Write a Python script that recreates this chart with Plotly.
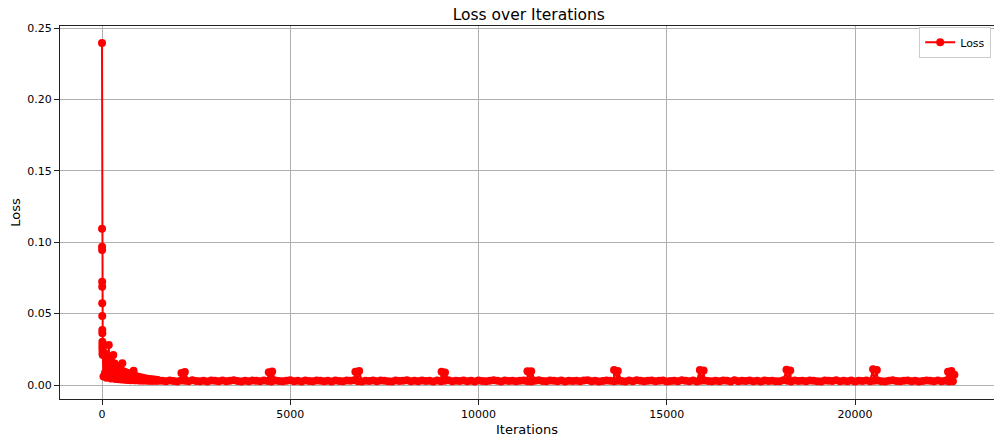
import plotly.graph_objects as go

# ---- data ----
# very first iterations (all drawn on the same pixel column at x = 0)
first_iters = [0, 1, 2, 3, 4, 5, 6, 7, 8, 9, 10, 11, 12, 14, 16, 18]
first_loss = [0.2395, 0.1095, 0.0969, 0.0945, 0.0723, 0.0688, 0.0572, 0.0483,
              0.0385, 0.0362, 0.0303, 0.0280, 0.0262, 0.0245, 0.0230, 0.0215]

# noisy decay, iterations 20 .. 1500 every 20
decay_start, decay_step = 20, 20
decay_loss = [
    0.0210, 0.0060, 0.0225, 0.0085, 0.0200, 0.0050, 0.0180, 0.0070, 0.0280, 0.0060,
    0.0175, 0.0045, 0.0160, 0.0055, 0.0210, 0.0048, 0.0150, 0.0042, 0.0135, 0.0050,
    0.0125, 0.0040, 0.0120, 0.0046, 0.0110, 0.0038, 0.0152, 0.0042, 0.0095, 0.0036,
    0.0090, 0.0040, 0.0085, 0.0035, 0.0082, 0.0038, 0.0078, 0.0034, 0.0072, 0.0036,
    0.0068, 0.0100, 0.0034, 0.0065, 0.0033, 0.0060, 0.0035, 0.0057, 0.0032, 0.0055,
    0.0034, 0.0052, 0.0032, 0.0050, 0.0031, 0.0046, 0.0033, 0.0045, 0.0031, 0.0043,
    0.0032, 0.0042, 0.0030, 0.0040, 0.0031, 0.0039, 0.0030, 0.0038, 0.0031, 0.0037,
    0.0030, 0.0036, 0.0031, 0.0035, 0.0030]

# flat plateau, iterations 1600 .. 22600 every 100
plateau_start, plateau_step = 1600, 100
plateau_loss = [
    0.0030, 0.0027, 0.0032, 0.0028, 0.0025, 0.0031, 0.0029, 0.0026, 0.0033, 0.0028,
    0.0027, 0.0030, 0.0025, 0.0032, 0.0029, 0.0027, 0.0031, 0.0026, 0.0029, 0.0033,
    0.0028, 0.0025, 0.0030, 0.0027, 0.0032, 0.0029, 0.0026, 0.0031, 0.0028, 0.0025,
    0.0031, 0.0028, 0.0026, 0.0030, 0.0033, 0.0027, 0.0029, 0.0025, 0.0032, 0.0028,
    0.0026, 0.0031, 0.0029, 0.0027, 0.0030, 0.0025, 0.0032, 0.0028, 0.0026, 0.0031,
    0.0029, 0.0033, 0.0027, 0.0025, 0.0030, 0.0028, 0.0031, 0.0026, 0.0032, 0.0029,
    0.0027, 0.0025, 0.0031, 0.0028, 0.0030, 0.0033, 0.0026, 0.0029, 0.0027, 0.0032,
    0.0028, 0.0030, 0.0025, 0.0031, 0.0027, 0.0029, 0.0033, 0.0026, 0.0030, 0.0028,
    0.0032, 0.0026, 0.0029, 0.0025, 0.0031, 0.0028, 0.0027, 0.0030, 0.0033, 0.0029,
    0.0025, 0.0032, 0.0028, 0.0030, 0.0026, 0.0029, 0.0031, 0.0027, 0.0025, 0.0030,
    0.0033, 0.0028, 0.0026, 0.0031, 0.0029, 0.0027, 0.0032, 0.0025, 0.0030, 0.0028,
    0.0029, 0.0026, 0.0031, 0.0033, 0.0027, 0.0030, 0.0025, 0.0028, 0.0032, 0.0029,
    0.0026, 0.0030, 0.0028, 0.0025, 0.0031, 0.0027, 0.0033, 0.0029, 0.0026, 0.0030,
    0.0032, 0.0027, 0.0029, 0.0031, 0.0025, 0.0028, 0.0030, 0.0026, 0.0033, 0.0029,
    0.0027, 0.0031, 0.0025, 0.0029, 0.0032, 0.0028, 0.0026, 0.0030, 0.0027, 0.0031,
    0.0029, 0.0025, 0.0033, 0.0027, 0.0030, 0.0028, 0.0032, 0.0026, 0.0029, 0.0025,
    0.0031, 0.0028, 0.0030, 0.0026, 0.0027, 0.0033, 0.0029, 0.0025, 0.0032, 0.0028,
    0.0030, 0.0026, 0.0031, 0.0029, 0.0027, 0.0025, 0.0032, 0.0030, 0.0028, 0.0033,
    0.0026, 0.0029, 0.0027, 0.0031, 0.0025, 0.0030, 0.0028, 0.0032, 0.0026, 0.0029,
    0.0031, 0.0027, 0.0025, 0.0030, 0.0033, 0.0028, 0.0026, 0.0029, 0.0031, 0.0027,
    0.0030, 0.0025, 0.0028, 0.0032, 0.0029, 0.0026, 0.0031, 0.0027, 0.0030, 0.0024,
    0.0026]

# periodic bumps (start of each pass over the data)
bump_iters = [2110, 2200, 4430, 4520, 6730, 6830, 9020, 9110, 11300, 11400,
              13600, 13700, 15880, 15980, 18180, 18280, 20480, 20580, 22470, 22560, 22640]
bump_loss = [0.0084, 0.0091, 0.0090, 0.0095, 0.0093, 0.0098, 0.0093, 0.0088, 0.0097, 0.0097,
             0.0105, 0.0098, 0.0105, 0.0102, 0.0107, 0.0101, 0.0110, 0.0105, 0.0093, 0.0098, 0.0072]

# ---- assemble series ----
decay_iters = [decay_start + i * decay_step for i in range(len(decay_loss))]
plateau_iters = [plateau_start + i * plateau_step for i in range(len(plateau_loss))]
pairs = sorted(zip(first_iters + decay_iters + plateau_iters + bump_iters,
                   first_loss + decay_loss + plateau_loss + bump_loss))
iters = [p[0] for p in pairs]
loss = [p[1] for p in pairs]

FONT = "DejaVu Sans"

fig = go.Figure()
fig.add_trace(go.Scatter(
    x=iters, y=loss, mode="lines+markers", name="Loss",
    line=dict(color="#ff0000", width=2),
    marker=dict(color="#ff0000", size=8),
))

fig.update_layout(
    width=994, height=440,
    margin=dict(l=60, r=0, t=26, b=41),
    paper_bgcolor="white", plot_bgcolor="white",
    font=dict(family=FONT, color="#000000", size=11),
    title=dict(text="Loss over Iterations", x=0.532, xanchor="center",
               y=0.968, yanchor="middle", font=dict(size=15.5, color="#000000")),
    showlegend=True,
    legend=dict(x=0.997, y=0.998, xanchor="right", yanchor="top",
                bgcolor="white", bordercolor="#cccccc", borderwidth=1,
                font=dict(size=11), itemwidth=30),
)

# the reference is cropped just before its right spine, so the axis range
# runs to the right edge of the canvas and no right spine is drawn
fig.update_xaxes(
    range=[-1115.5, 23692], tickvals=[0, 5000, 10000, 15000, 20000],
    tickformat="d", showgrid=True, gridcolor="#b0b0b0", gridwidth=1,
    zeroline=False, showline=True, linecolor="#222222", linewidth=1, mirror=True,
    ticks="outside", ticklen=5, tickcolor="#222222", tickfont=dict(size=11),
    title=dict(text="Iterations", font=dict(size=13), standoff=4),
)
fig.update_yaxes(
    range=[-0.0098, 0.2514], tickvals=[0, 0.05, 0.10, 0.15, 0.20, 0.25],
    tickformat=".2f", showgrid=True, gridcolor="#b0b0b0", gridwidth=1,
    zeroline=False, showline=True, linecolor="#222222", linewidth=1, mirror=False,
    ticks="outside", ticklen=5, tickcolor="#222222", tickfont=dict(size=11),
    title=dict(text="Loss", font=dict(size=13), standoff=3),
)

fig.write_html(
    "out.html",
    config={"displayModeBar": False},
    post_script="document.body.style.margin='0px';document.body.style.overflow='hidden';",
)
